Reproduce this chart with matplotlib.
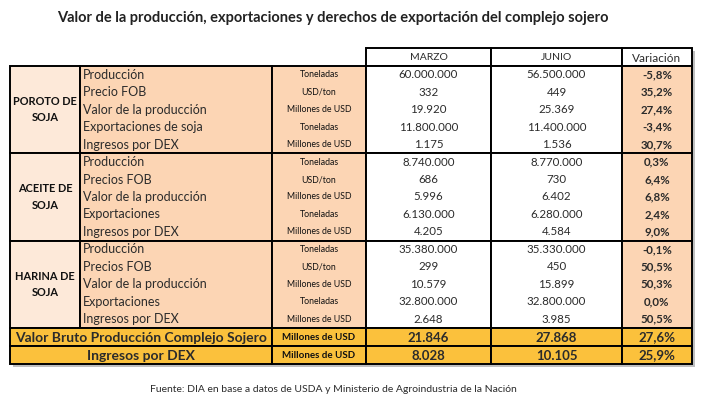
import matplotlib.pyplot as plt
from matplotlib.patches import Rectangle

plt.rcParams['font.family'] = ['Lato', 'DejaVu Sans']

title = "Valor de la producción, exportaciones y derechos de exportación del complejo sojero"
source = "Fuente: DIA en base a datos de USDA y Ministerio de Agroindustria de la Nación"

headers = ["MARZO", "JUNIO", "Variación"]
groups = ["POROTO DE\nSOJA", "ACEITE DE\nSOJA", "HARINA DE\nSOJA"]
items = [
    ["Producción", "Precio FOB", "Valor de la producción", "Exportaciones de soja", "Ingresos por DEX"],
    ["Producción", "Precios FOB", "Valor de la producción", "Exportaciones", "Ingresos por DEX"],
    ["Producción", "Precios FOB", "Valor de la producción", "Exportaciones", "Ingresos por DEX"],
]
units = ["Toneladas", "USD/ton", "Millones de USD", "Toneladas", "Millones de USD"]
marzo = [
    ["60.000.000", "332", "19.920", "11.800.000", "1.175"],
    ["8.740.000", "686", "5.996", "6.130.000", "4.205"],
    ["35.380.000", "299", "10.579", "32.800.000", "2.648"],
]
junio = [
    ["56.500.000", "449", "25.369", "11.400.000", "1.536"],
    ["8.770.000", "730", "6.402", "6.280.000", "4.584"],
    ["35.330.000", "450", "15.899", "32.800.000", "3.985"],
]
variacion = [
    ["-5,8%", "35,2%", "27,4%", "-3,4%", "30,7%"],
    ["0,3%", "6,4%", "6,8%", "2,4%", "9,0%"],
    ["-0,1%", "50,5%", "50,3%", "0,0%", "50,5%"],
]
total_labels = ["Valor Bruto Producción Complejo Sojero", "Ingresos por DEX"]
total_units = ["Millones de USD", "Millones de USD"]
total_marzo = ["21.846", "8.028"]
total_junio = ["27.868", "10.105"]
total_var = ["27,6%", "25,9%"]

# layout in pixel coordinates
cols = [10, 80, 272, 366, 491, 622, 692]
head_top, body_top, body_bot = 48, 66, 328
tot_rows = [328, 346, 364]
rh = (body_bot - body_top) / 15

peach = "#FCD5B4"
light = "#FDE9D9"
gold = "#FBC13C"
txt = "#2B2B2B"
lw = 1.4

fig = plt.figure(figsize=(7.09, 4.09), dpi=100)
ax = fig.add_axes([0, 0, 1, 1])
ax.set_xlim(0, 709)
ax.set_ylim(409, 0)
ax.axis("off")


def box(x0, y0, x1, y1, fc):
    ax.add_patch(Rectangle((x0, y0), x1 - x0, y1 - y0, facecolor=fc, edgecolor="black", lw=lw))


# shadow
ax.add_patch(Rectangle((cols[0] + 3, body_top + 3), cols[-1] - cols[0], tot_rows[-1] - body_top,
                       facecolor="#BFBFBF", edgecolor="none"))
ax.add_patch(Rectangle((cols[3] + 3, head_top + 3), cols[-1] - cols[3], body_top - head_top,
                       facecolor="#BFBFBF", edgecolor="none"))

ax.text(333, 18, title, ha="center", va="center", fontsize=10.5, fontweight="bold", color="#222222")

# header
for j, h in enumerate(headers):
    box(cols[3 + j], head_top, cols[4 + j], body_top, "white")
    ax.text((cols[3 + j] + cols[4 + j]) / 2, (head_top + body_top) / 2 + 1, h,
            ha="center", va="center", fontsize=7.5 if j < 2 else 8.5, color=txt)

# groups
for g in range(3):
    y0 = body_top + g * 5 * rh
    y1 = y0 + 5 * rh
    box(cols[0], y0, cols[1], y1, light)
    box(cols[1], y0, cols[2], y1, peach)
    box(cols[2], y0, cols[3], y1, peach)
    box(cols[3], y0, cols[4], y1, "white")
    box(cols[4], y0, cols[5], y1, "white")
    box(cols[5], y0, cols[6], y1, peach)
    ax.text((cols[0] + cols[1]) / 2, (y0 + y1) / 2, groups[g], ha="center", va="center",
            fontsize=7.9, fontweight="bold", linespacing=1.6, color="#111111")
    for i in range(5):
        yc = y0 + (i + 0.5) * rh
        ax.text(cols[1] + 3, yc, items[g][i], ha="left", va="center", fontsize=9, color=txt)
        ax.text((cols[2] + cols[3]) / 2, yc, units[i], ha="center", va="center", fontsize=6.3, color="#111111")
        ax.text((cols[3] + cols[4]) / 2, yc, marzo[g][i], ha="center", va="center", fontsize=8.3, color=txt)
        ax.text((cols[4] + cols[5]) / 2, yc, junio[g][i], ha="center", va="center", fontsize=8.3, color=txt)
        ax.text((cols[5] + cols[6]) / 2, yc, variacion[g][i], ha="center", va="center", fontsize=8.3,
                fontweight="bold", color=txt)

# totals
for k in range(2):
    y0, y1 = tot_rows[k], tot_rows[k + 1]
    yc = (y0 + y1) / 2 + 0.5
    box(cols[0], y0, cols[2], y1, gold)
    for c in range(2, 6):
        box(cols[c], y0, cols[c + 1], y1, gold)
    ax.text((cols[0] + cols[2]) / 2, yc, total_labels[k], ha="center", va="center", fontsize=10,
            fontweight="bold", color=txt)
    ax.text((cols[2] + cols[3]) / 2, yc, total_units[k], ha="center", va="center", fontsize=7,
            fontweight="bold", color="#111111")
    ax.text((cols[3] + cols[4]) / 2, yc, total_marzo[k], ha="center", va="center", fontsize=9.5,
            fontweight="bold", color=txt)
    ax.text((cols[4] + cols[5]) / 2, yc, total_junio[k], ha="center", va="center", fontsize=9.5,
            fontweight="bold", color=txt)
    ax.text((cols[5] + cols[6]) / 2, yc, total_var[k], ha="center", va="center", fontsize=9.5,
            fontweight="bold", color=txt)

ax.text(150, 389, source, ha="left", va="center", fontsize=7.5, color=txt)

fig.savefig("out.png", dpi=100)
